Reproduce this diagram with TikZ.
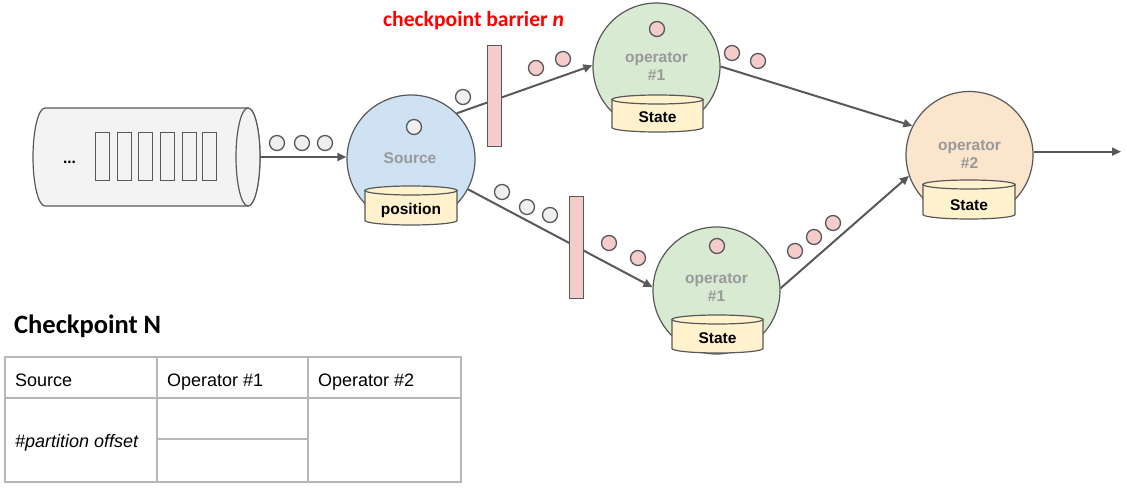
\documentclass[tikz,border=0pt]{standalone}
\usepackage{fontspec}
\setmainfont{Liberation Sans}
\newfontfamily\calibrifont{Carlito}
\usetikzlibrary{arrows.meta}
\definecolor{edge}{HTML}{595959}
\definecolor{sourcefill}{HTML}{CFE2F3}
\definecolor{opafill}{HTML}{D9EAD3}
\definecolor{optwofill}{HTML}{FCE5CD}
\definecolor{statefill}{HTML}{FFF2CC}
\definecolor{pinkfill}{HTML}{F4CCCC}
\definecolor{dotwhite}{HTML}{EFEFEF}
\definecolor{queuefill}{HTML}{F3F3F3}
\definecolor{labelgray}{HTML}{999999}
\definecolor{tablegray}{HTML}{B7B7B7}
\definecolor{barred}{HTML}{FF0000}
\tikzset{
  proc/.style={circle, draw=edge, line width=1.2pt, minimum size=127pt, inner sep=0pt},
  dotnode/.style={circle, draw=edge, line width=1.3pt, minimum size=15pt, inner sep=0pt},
  whitedot/.style={dotnode, fill=dotwhite},
  pinkdot/.style={dotnode, fill=pinkfill},
  barrier/.style={rectangle, draw=edge, line width=1pt, fill=pinkfill, minimum width=14pt, minimum height=101pt, inner sep=0pt},
  flow/.style={draw=edge, line width=2pt, -{Triangle[length=9pt,width=8pt]}},
  proclabel/.style={font=\bfseries\fontsize{15.5}{18}\selectfont, text=labelgray, align=center, inner sep=0pt},
  statelabel/.style={font=\bfseries\fontsize{15.5}{18}\selectfont, text=black, inner sep=0pt},
  cylbody/.style={draw=edge, line width=1.2pt, fill=statefill},
  queuebody/.style={draw=edge, line width=1.2pt, fill=queuefill},
  slot/.style={rectangle, draw=edge, line width=1pt, minimum width=14pt, minimum height=48pt, inner sep=0pt},
  cell/.style={draw=tablegray, line width=1.3pt},
  celltext/.style={font=\fontsize{18}{21}\selectfont, anchor=base west, inner sep=0pt},
}
\newcommand\drawcyl[4]{% cx, Ytop, Ybot, halfwidth
  \draw[cylbody] (#1-#4,#2) -- (#1-#4,#3) arc[start angle=180,end angle=360,x radius=#4,y radius=4.5] -- (#1+#4,#2) -- cycle;
  \draw[cylbody] (#1,#2) ellipse[x radius=#4, y radius=4.5];
}
\begin{document}
\begin{tikzpicture}[x=1pt,y=1pt]
\useasboundingbox (0,0) rectangle (1127,488);

% ---- queue ----
\draw[queuebody] (45,380) -- (248,380) arc[start angle=90,end angle=-90,x radius=12,y radius=49]
  -- (45,282) arc[start angle=270,end angle=90,x radius=12,y radius=49] -- cycle;
\draw[queuebody] (248,331) ellipse[x radius=12, y radius=49];
\node[minimum width=227pt, minimum height=98pt, inner sep=0pt] (queue) at (146.5,331) {};
\node[font=\bfseries\fontsize{15.5}{18}\selectfont, anchor=base, inner sep=0pt] (qdots) at (69.5,324) {...};
\foreach \i/\x in {1/102,2/124,3/145.5,4/167,5/189,6/209}
  \node[slot] (slot\i) at (\x,331) {};

% ---- processing circles ----
\node[proc, minimum size=128pt, fill=sourcefill] (source) at (411,329) {};
\node[proc, fill=opafill] (op1a) at (656.5,421.5) {};
\node[proc, fill=opafill] (op1b) at (716.5,197.5) {};
\node[proc, fill=optwofill] (op2) at (969.5,333) {};

\node[proclabel] (sourcelabel) at (410,330) {Source};
\node[proclabel] (op1alabel) at (656.5,422) {operator\\\#1};
\node[proclabel] (op1blabel) at (716.5,201) {operator\\\#1};
\node[proclabel] (op2label) at (969.5,334) {operator\\\#2};

% ---- state cylinders ----
\drawcyl{411}{297.5}{267.5}{46}
\node[statelabel] (position) at (411,278) {position};
\drawcyl{657.5}{388.5}{360.5}{45.5}
\node[statelabel] (state1a) at (657.5,371) {State};
\drawcyl{717.5}{168.5}{139.5}{45.5}
\node[statelabel] (state1b) at (717.5,150) {State};
\drawcyl{969}{303.5}{273.5}{46}
\node[statelabel] (state2) at (969,283) {State};

% ---- connectors ----
\coordinate (out) at (1121,336);
\draw[flow] (queue.east) -- (queue.east -| source.west);
\draw[flow] (source.45) -- (op1a.179);
\draw[flow] (source.-28) -- (op1b.177);
\draw[flow] (op1a.0) -- (op2.153);
\draw[flow] (op1b.2) -- (op2.199);
\draw[flow] (op2.3) -- (op2.3 -| out);

% ---- barriers ----
\node[barrier] (bartop) at (494.5,391.5) {};
\node[barrier] (barbot) at (576.5,240.5) {};
\node[font=\calibrifont\bfseries\fontsize{21.6}{24}\selectfont, text=barred, anchor=base west, inner sep=0pt] (bartitle) at (383,461) {checkpoint barrier \textit{n}};

% ---- records ----
\node[whitedot] (q1) at (277,345) {};
\node[whitedot] (q2) at (302,345) {};
\node[whitedot] (q3) at (325,345) {};
\node[whitedot] (s0) at (414,361) {};
\node[whitedot] (t1) at (463,391) {};
\node[pinkdot] (t2) at (536,420) {};
\node[pinkdot] (t3) at (563,429) {};
\node[pinkdot] (a0) at (657,459) {};
\node[pinkdot] (a1) at (732,435) {};
\node[pinkdot] (a2) at (758,427) {};
\node[whitedot] (b1) at (502,296) {};
\node[whitedot] (b2) at (527,281) {};
\node[whitedot] (b3) at (550,273) {};
\node[pinkdot] (b4) at (609,245) {};
\node[pinkdot] (b5) at (638,230) {};
\node[pinkdot] (c0) at (717,242) {};
\node[pinkdot] (c1) at (795,237) {};
\node[pinkdot] (c2) at (814,251) {};
\node[pinkdot] (c3) at (833,265) {};

% ---- checkpoint table ----
\node[font=\calibrifont\bfseries\fontsize{26.5}{29}\selectfont, anchor=base west, inner sep=0pt] (cptitle) at (14,155) {Checkpoint N};
\draw[cell] (5,6) rectangle (461,131);
\draw[cell] (5,90) -- (461,90);
\draw[cell] (157,6) -- (157,131);
\draw[cell] (308,6) -- (308,131);
\draw[cell] (157,49) -- (308,49);
\node[celltext] (hsource) at (15,102) {Source};
\node[celltext] (hop1) at (167,102) {Operator \#1};
\node[celltext] (hop2) at (318,102) {Operator \#2};
\node[celltext, font=\itshape\fontsize{18}{21}\selectfont] (offset) at (15,41) {\#partition offset};
\end{tikzpicture}
\end{document}
